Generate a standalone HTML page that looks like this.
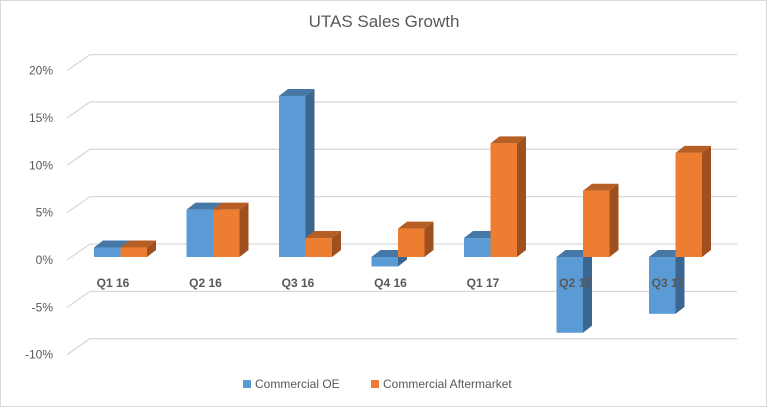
<!DOCTYPE html>
<html><head><meta charset="utf-8"><style>
body{margin:0;background:#fff}
svg{display:block;font-family:"Liberation Sans",Calibri,sans-serif}
</style></head><body>
<svg id="chart" width="768" height="408" viewBox="0 0 768 408">
<rect x="0.5" y="0.5" width="766" height="406" fill="#fff" stroke="#d9d9d9"/>
<text x="384" y="27" text-anchor="middle" font-size="17" fill="#595959">UTAS Sales Growth</text>
<g id="grid"></g><g id="bars"></g><g id="labels"></g>
<g>
<rect x="243" y="380" width="8" height="8" fill="#5B9BD5"/>
<text x="255" y="388" font-size="12" fill="#595959">Commercial OE</text>
<rect x="371" y="380" width="8" height="8" fill="#ED7D31"/>
<text x="383" y="388" font-size="12" fill="#595959">Commercial Aftermarket</text>
</g>
</svg>
<script>
const categories=["Q1 16","Q2 16","Q3 16","Q4 16","Q1 17","Q2 17","Q3 17"];
const oeValues=[1,5,17,-1,2,-8,-6];
const amValues=[1,5,2,3,12,7,11];
const tickValues=[20,15,10,5,0,-5,-10];
const tickLabels=["20%","15%","10%","5%","0%","-5%","-10%"];
const NS="http://www.w3.org/2000/svg";
const yFront=v=>257-v*9.47;
const xCat=i=>94+i*92.5;
const BW=26.5, DX=9, DY=-7;
function mk(tag,attrs,parent){const e=document.createElementNS(NS,tag);for(const k in attrs)e.setAttribute(k,attrs[k]);parent.appendChild(e);return e;}
const grid=document.getElementById('grid'),bars=document.getElementById('bars'),labels=document.getElementById('labels');
tickValues.forEach((v,i)=>{
  const yb=yFront(v)-13, yf=yFront(v)+3;
  const g=mk('path',{d:`M67 ${yf} L90 ${yb} L737 ${yb}`,fill:'none',stroke:'#d9d9d9','stroke-width':1.3},grid);
  
  
  const t=mk('text',{x:53,y:yf+4,'text-anchor':'end','font-size':12,fill:'#595959'},grid);
  t.textContent=tickLabels[i];
  
  
});
function bar(x,v,cols,name){
  const y0=yFront(0), yv=yFront(v), top=Math.min(y0,yv), bot=Math.max(y0,yv);
  const g=mk('g',{},bars);
  
  
  mk('path',{d:`M${x+BW} ${top} L${x+BW+DX} ${top+DY} L${x+BW+DX} ${bot+DY} L${x+BW} ${bot}Z`,fill:cols[2]},g);
  mk('path',{d:`M${x} ${top} L${x+DX} ${top+DY} L${x+BW+DX} ${top+DY} L${x+BW} ${top}Z`,fill:cols[1]},g);
  mk('rect',{x:x,y:top,width:BW,height:Math.max(bot-top,0.5),fill:cols[0]},g);
}
const blue=["#5B9BD5","#4677A6","#3A6690"], orange=["#ED7D31","#B65E24","#9E501E"];
categories.forEach((c,i)=>{
  bar(xCat(i),oeValues[i],blue,'bar-oe-'+c.replace(' ','-').toLowerCase());
  bar(xCat(i)+BW,amValues[i],orange,'bar-aftermarket-'+c.replace(' ','-').toLowerCase());
  const t=mk('text',{x:xCat(i)+19,y:287,'text-anchor':'middle','font-size':12,'font-weight':'bold',fill:'#595959'},labels);
  t.textContent=c;
  
  
});
</script>
</body></html>
